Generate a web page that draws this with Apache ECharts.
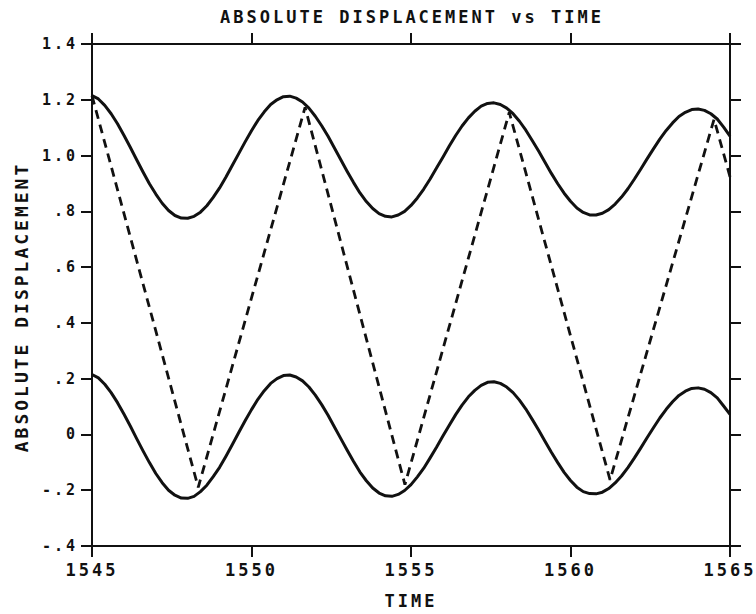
<!DOCTYPE html>
<html>
<head>
<meta charset="utf-8">
<title>ABSOLUTE DISPLACEMENT vs TIME</title>
<script src="https://cdn.jsdelivr.net/npm/echarts@6/dist/echarts.min.js"></script>
<style>
  html, body { margin: 0; padding: 0; background: #fff; }
  #chart { width: 756px; height: 614px; }
  /* plotter lettering is wide-spaced */
  #chart svg text { letter-spacing: 3px; }
</style>
</head>
<body>
<div id="chart"></div>
<script>
// time samples for the two solid curves
const times = [
  1545.0, 1545.2, 1545.4, 1545.6, 1545.8, 1546.0, 1546.2, 1546.4, 1546.6, 1546.8,
  1547.0, 1547.2, 1547.4, 1547.6, 1547.8, 1548.0, 1548.2, 1548.4, 1548.6, 1548.8,
  1549.0, 1549.2, 1549.4, 1549.6, 1549.8, 1550.0, 1550.2, 1550.4, 1550.6, 1550.8,
  1551.0, 1551.2, 1551.4, 1551.6, 1551.8, 1552.0, 1552.2, 1552.4, 1552.6, 1552.8,
  1553.0, 1553.2, 1553.4, 1553.6, 1553.8, 1554.0, 1554.2, 1554.4, 1554.6, 1554.8,
  1555.0, 1555.2, 1555.4, 1555.6, 1555.8, 1556.0, 1556.2, 1556.4, 1556.6, 1556.8,
  1557.0, 1557.2, 1557.4, 1557.6, 1557.8, 1558.0, 1558.2, 1558.4, 1558.6, 1558.8,
  1559.0, 1559.2, 1559.4, 1559.6, 1559.8, 1560.0, 1560.2, 1560.4, 1560.6, 1560.8,
  1561.0, 1561.2, 1561.4, 1561.6, 1561.8, 1562.0, 1562.2, 1562.4, 1562.6, 1562.8,
  1563.0, 1563.2, 1563.4, 1563.6, 1563.8, 1564.0, 1564.2, 1564.4, 1564.6, 1564.8,
  1565.0
];
// upper solid curve
const upper = [
  1.215, 1.203, 1.180, 1.150, 1.114, 1.073, 1.030, 0.985, 0.941, 0.899,
  0.862, 0.829, 0.803, 0.785, 0.776, 0.775, 0.782, 0.797, 0.820, 0.850,
  0.884, 0.923, 0.965, 1.007, 1.049, 1.089, 1.126, 1.157, 1.183, 1.200,
  1.211, 1.213, 1.206, 1.192, 1.170, 1.141, 1.107, 1.069, 1.027, 0.985,
  0.943, 0.903, 0.866, 0.835, 0.810, 0.792, 0.782, 0.780, 0.787, 0.800,
  0.821, 0.848, 0.880, 0.916, 0.955, 0.994, 1.034, 1.072, 1.106, 1.135,
  1.159, 1.177, 1.187, 1.189, 1.183, 1.170, 1.150, 1.123, 1.091, 1.054,
  1.016, 0.976, 0.936, 0.899, 0.865, 0.836, 0.812, 0.796, 0.787, 0.787,
  0.793, 0.806, 0.826, 0.851, 0.881, 0.915, 0.951, 0.988, 1.024, 1.059,
  1.090, 1.117, 1.140, 1.155, 1.165, 1.167, 1.162, 1.150, 1.131, 1.102,
  1.070
];
// lower solid curve
const lower = [
  0.215, 0.203, 0.180, 0.150, 0.114, 0.073, 0.030, -0.015, -0.059, -0.101,
  -0.140, -0.173, -0.200, -0.218, -0.228, -0.229, -0.222, -0.205, -0.182, -0.151,
  -0.118, -0.078, -0.036, 0.007, 0.049, 0.089, 0.126, 0.157, 0.183, 0.200,
  0.211, 0.213, 0.206, 0.192, 0.170, 0.141, 0.107, 0.069, 0.027, -0.015,
  -0.057, -0.097, -0.135, -0.166, -0.192, -0.210, -0.220, -0.222, -0.215, -0.201,
  -0.180, -0.152, -0.121, -0.084, -0.046, -0.006, 0.033, 0.071, 0.105, 0.135,
  0.158, 0.176, 0.187, 0.189, 0.183, 0.170, 0.150, 0.123, 0.091, 0.054,
  0.016, -0.024, -0.064, -0.101, -0.136, -0.165, -0.189, -0.205, -0.212, -0.213,
  -0.207, -0.194, -0.174, -0.149, -0.119, -0.085, -0.049, -0.012, 0.024, 0.059,
  0.090, 0.117, 0.140, 0.155, 0.165, 0.167, 0.162, 0.150, 0.131, 0.102,
  0.072
];
// dashed zig-zag
const dashTimes = [1545.0, 1548.33, 1551.68, 1554.81, 1558.08, 1561.24, 1564.5, 1565.0];
const dashValues = [1.215, -0.19, 1.173, -0.18, 1.155, -0.163, 1.13, 0.924];

const yTickLabels = ['-.4', '-.2', '0', '.2', '.4', '.6', '.8', '1.0', '1.2', '1.4'];
const xTickLabels = ['1545', '1550', '1555', '1560', '1565'];

const font = 'DejaVu Sans Mono';
const ink = '#111';

const pairs = (xs, ys) => xs.map((x, i) => [x, ys[i]]);

const chart = echarts.init(document.getElementById('chart'), null, { renderer: 'svg' });

const lineAxis = { show: true, onZero: false, lineStyle: { color: ink, width: 2 } };
const outTick = { show: true, inside: false, length: 11, lineStyle: { color: ink, width: 2 } };

const option = {
  backgroundColor: '#fff',
  animation: false,
  title: {
    text: 'ABSOLUTE DISPLACEMENT vs TIME',
    left: 412,
    top: 8,
    padding: 0,
    textAlign: 'center',
    textStyle: { fontFamily: font, fontWeight: 'bold', fontSize: 17, color: ink }
  },
  grid: { left: 92, right: 26, top: 44, bottom: 68, containLabel: false, outerBoundsMode: 'none' },
  xAxis: [
    {
      type: 'value', position: 'bottom', min: 1545, max: 1565, interval: 5,
      name: 'TIME', nameLocation: 'middle', nameGap: 46,
      nameTextStyle: { fontFamily: font, fontWeight: 'bold', fontSize: 17, color: ink },
      axisLine: lineAxis, axisTick: outTick, splitLine: { show: false },
      axisLabel: {
        margin: 15, fontFamily: font, fontWeight: 'bold', fontSize: 17, color: ink,
        formatter: (v) => xTickLabels[Math.round((v - 1545) / 5)]
      }
    },
    {
      type: 'value', position: 'top', min: 1545, max: 1565, interval: 5,
      axisLine: lineAxis, axisTick: outTick, splitLine: { show: false },
      axisLabel: { show: false }
    }
  ],
  yAxis: [
    {
      type: 'value', position: 'left', min: -0.4, max: 1.4, interval: 0.2,
      name: 'ABSOLUTE DISPLACEMENT', nameLocation: 'middle', nameRotate: 90, nameGap: 62,
      nameTextStyle: { fontFamily: font, fontWeight: 'bold', fontSize: 18, color: ink, padding: [0, 24, 0, 0] },
      axisLine: lineAxis, axisTick: outTick, splitLine: { show: false },
      axisLabel: {
        margin: 14, fontFamily: font, fontWeight: 'bold', fontSize: 15, color: ink,
        formatter: (v) => yTickLabels[Math.round((v + 0.4) / 0.2)]
      }
    },
    {
      type: 'value', position: 'right', min: -0.4, max: 1.4, interval: 0.2,
      axisLine: lineAxis, axisTick: outTick, splitLine: { show: false },
      axisLabel: { show: false }
    }
  ],
  series: [
    {
      name: 'upper', type: 'line', data: pairs(times, upper), smooth: false,
      showSymbol: false, lineStyle: { color: ink, width: 3, join: 'round' }
    },
    {
      name: 'lower', type: 'line', data: pairs(times, lower), smooth: false,
      showSymbol: false, lineStyle: { color: ink, width: 3, join: 'round' }
    },
    {
      name: 'dashed', type: 'line', data: pairs(dashTimes, dashValues),
      showSymbol: false, lineStyle: { color: ink, width: 2.8, type: [9, 6] }
    }
  ]
};

chart.setOption(option);
</script>
</body>
</html>
